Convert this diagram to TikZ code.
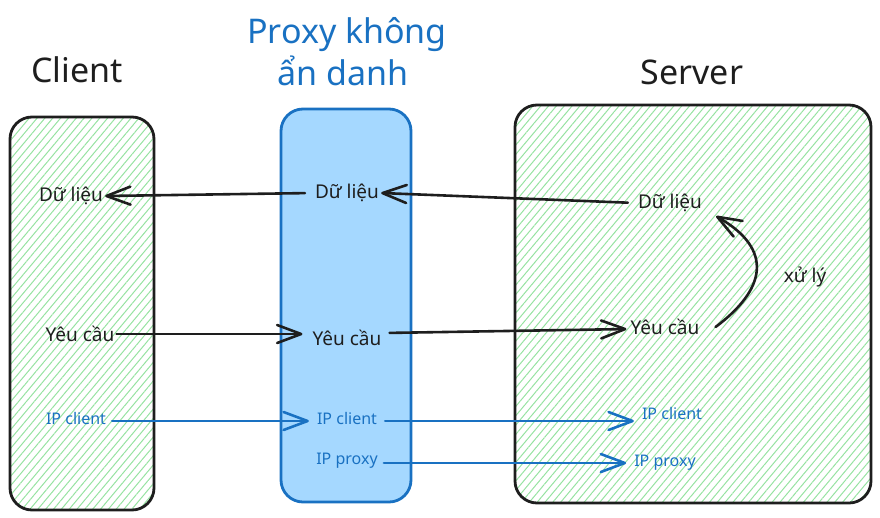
\documentclass[tikz,border=0pt]{standalone}
\usepackage{fontspec}
\setmainfont{Noto Sans}
\usetikzlibrary{arrows.meta,patterns.meta,calc}

\definecolor{ink}{HTML}{1E1E1E}
\definecolor{proxyblue}{HTML}{1971C2}
\definecolor{proxyfill}{HTML}{A5D8FF}
\definecolor{hatch}{HTML}{96E2A1}

\begin{document}
\begin{tikzpicture}[x=1pt,y=-1pt,
  box/.style={draw=ink,line width=2.8pt,rounded corners=22pt},
  hatched/.style={pattern={Lines[angle=50,distance=6pt,line width=1pt]},pattern color=hatch},
  proxybox/.style={draw=proxyblue,fill=proxyfill,line width=2.8pt,rounded corners=22pt},
  title/.style={font=\fontsize{34}{38}\selectfont,text=ink,inner sep=1pt},
  ptitle/.style={title,text=proxyblue},
  lbl/.style={font=\fontsize{19}{23}\selectfont,text=ink,inner sep=2pt},
  iplbl/.style={font=\fontsize{16}{19}\selectfont,text=proxyblue,inner sep=2pt},
  arr/.style={draw=ink,line width=2.6pt,line cap=round,
    -{Straight Barb[length=24pt,width=18pt,line width=2.6pt,round]}},
  iparr/.style={arr,draw=proxyblue},
]
\useasboundingbox (0,0) rectangle (880,517);

% three columns
\path[box,hatched] (10,117) rectangle (154,510);
\path[proxybox] (281,109) rectangle (411,502);
\path[box,hatched] (515,105) rectangle (871,503);

% headings
\node[title] (t-client) at (77,70) {Client};
\node[ptitle] (t-proxy1) at (347,35) {Proxy không};
\node[ptitle] (t-proxy2) at (343,71) {ẩn danh};
\node[title] (t-server) at (692,72) {Server};

% client side
\node[lbl] (cl-data) at (71,196) {Dữ liệu};
\node[lbl] (cl-req) at (80,334) {Yêu cầu};
\node[iplbl] (cl-ip) at (76,418) {IP client};

% proxy side
\node[lbl] (px-data) at (347,193) {Dữ liệu};
\node[lbl] (px-req) at (347,338) {Yêu cầu};
\node[iplbl] (px-ip) at (347,418) {IP client};
\node[iplbl] (px-ipp) at (347,461) {IP proxy};

% server side
\node[lbl] (sv-data) at (670,203) {Dữ liệu};
\node[lbl] (sv-req) at (665,327) {Yêu cầu};
\node[lbl] (sv-proc) at (805,277) {xử lý};
\node[iplbl] (sv-ip) at (672,413) {IP client};
\node[iplbl] (sv-ipp) at (665,463) {IP proxy};

% data flowing back to the client
\draw[arr,shorten <=8pt] (sv-data.west) -- (px-data.east);
\draw[arr,shorten <=8pt] (px-data.west) -- (cl-data.east);

% request flowing to the server
\draw[arr,shorten >=8pt] (cl-req.east) -- ($(px-req.west)+(0,-4)$);
\draw[arr,shorten <=6pt,shorten >=2pt] ($(px-req.east)+(0,-5)$) -- ($(sv-req.west)+(0,2)$);

% processing on the server
\draw[arr] ($(sv-req.east)+(14,0)$) .. controls (765,290) and (775,250) .. ($(sv-data.south east)+(12,2)$);

% addresses seen along the way
\draw[iparr,shorten <=4pt,shorten >=6pt] ($(cl-ip.east)+(0,3)$) -- ($(px-ip.west)+(0,3)$);
\draw[iparr,shorten <=6pt,shorten >=6pt] ($(px-ip.east)+(0,3)$) -- ($(sv-ip.west)+(0,8)$);
\draw[iparr,shorten <=4pt,shorten >=6pt] ($(px-ipp.east)+(0,2)$) -- ($(sv-ipp.west)+(0,0)$);
\end{tikzpicture}
\end{document}
